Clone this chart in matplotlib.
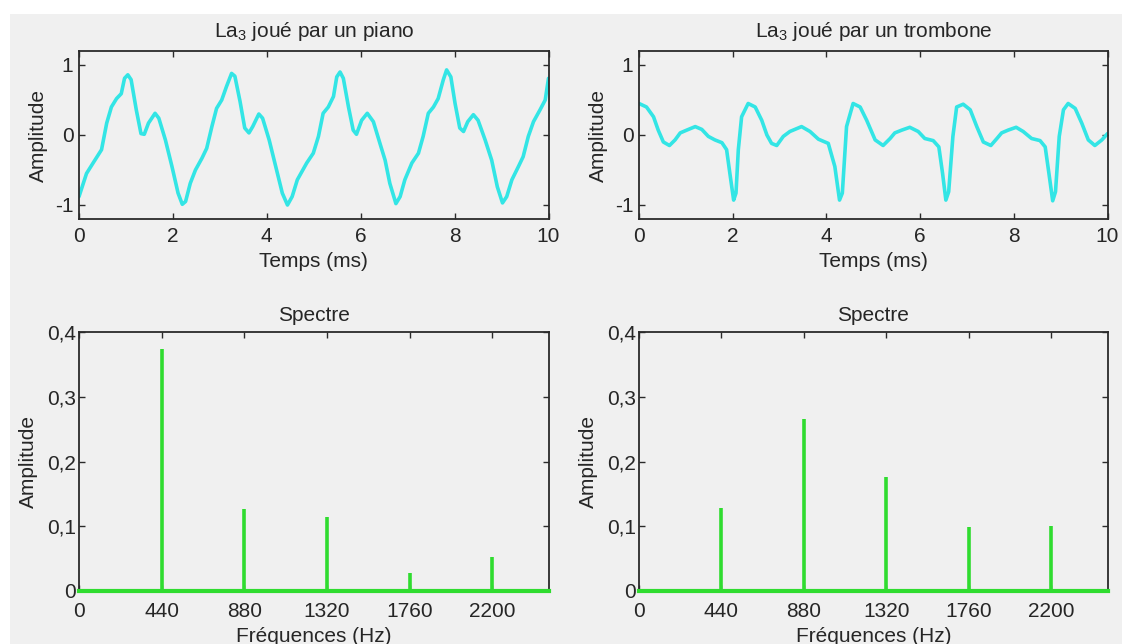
import matplotlib
matplotlib.use("Agg")
import matplotlib.pyplot as plt
from matplotlib.patches import Rectangle

plt.rcParams['font.family'] = ['Liberation Sans', 'DejaVu Sans']
plt.rcParams['mathtext.fontset'] = 'custom'
plt.rcParams['mathtext.rm'] = 'Liberation Sans'
plt.rcParams['mathtext.it'] = 'Liberation Sans'

# ---------------- data ----------------
piano_t = [0.00, 0.16, 0.30, 0.48, 0.59, 0.69, 0.80, 0.90, 0.97, 1.04, 1.11, 1.22, 1.32, 1.39, 1.48,
           1.62, 1.70, 1.84, 1.98, 2.11, 2.20, 2.27, 2.37, 2.48, 2.62, 2.72, 2.83, 2.93, 3.04, 3.14,
           3.25, 3.32, 3.43, 3.53, 3.62, 3.70, 3.83, 3.91, 4.05, 4.19, 4.33, 4.44, 4.54, 4.65, 4.85,
           4.99, 5.10, 5.20, 5.31, 5.42, 5.49, 5.56, 5.63, 5.74, 5.84, 5.91, 6.02, 6.14, 6.27, 6.41,
           6.52, 6.62, 6.75, 6.84, 6.94, 7.09, 7.23, 7.33, 7.44, 7.55, 7.65, 7.76, 7.83, 7.92, 8.01,
           8.11, 8.19, 8.28, 8.40, 8.50, 8.65, 8.79, 8.91, 9.02, 9.11, 9.22, 9.36, 9.46, 9.57, 9.68,
           9.82, 9.93, 10.0]
piano_y = [-0.88, -0.55, -0.40, -0.21, 0.17, 0.40, 0.52, 0.59, 0.81, 0.86, 0.79, 0.36, 0.02, 0.01, 0.17,
           0.31, 0.24, -0.07, -0.45, -0.83, -0.99, -0.95, -0.69, -0.50, -0.33, -0.19, 0.12, 0.38, 0.50, 0.69,
           0.88, 0.84, 0.48, 0.10, 0.03, 0.12, 0.30, 0.24, -0.07, -0.45, -0.83, -1.00, -0.88, -0.64, -0.40,
           -0.26, -0.02, 0.31, 0.40, 0.55, 0.83, 0.90, 0.81, 0.40, 0.07, 0.01, 0.21, 0.31, 0.19, -0.12,
           -0.36, -0.69, -0.98, -0.88, -0.64, -0.40, -0.26, -0.02, 0.31, 0.40, 0.52, 0.79, 0.93, 0.83, 0.45,
           0.10, 0.05, 0.19, 0.29, 0.21, -0.07, -0.36, -0.74, -0.97, -0.88, -0.64, -0.45, -0.31, -0.02, 0.19,
           0.36, 0.50, 0.81]

trombone_t = [0.00, 0.16, 0.31, 0.41, 0.52, 0.65, 0.77, 0.88, 1.02, 1.20, 1.34, 1.48, 1.62, 1.77, 1.87,
              1.94, 2.02, 2.07, 2.12, 2.19, 2.33, 2.48, 2.62, 2.73, 2.83, 2.94, 3.08, 3.22, 3.47, 3.65,
              3.83, 4.04, 4.18, 4.28, 4.34, 4.43, 4.57, 4.72, 4.86, 5.04, 5.21, 5.36, 5.46, 5.61, 5.78,
              5.96, 6.10, 6.28, 6.40, 6.48, 6.55, 6.61, 6.70, 6.78, 6.92, 7.07, 7.21, 7.35, 7.51, 7.64,
              7.74, 7.88, 8.05, 8.20, 8.38, 8.56, 8.67, 8.75, 8.83, 8.89, 8.97, 9.06, 9.16, 9.31, 9.45,
              9.59, 9.73, 9.88, 10.0]
trombone_y = [0.45, 0.40, 0.26, 0.07, -0.10, -0.15, -0.07, 0.03, 0.07, 0.12, 0.08, -0.02, -0.07, -0.11, -0.21,
              -0.55, -0.93, -0.83, -0.21, 0.26, 0.45, 0.40, 0.21, 0.00, -0.12, -0.15, -0.02, 0.05, 0.12, 0.05,
              -0.06, -0.12, -0.45, -0.93, -0.83, 0.12, 0.45, 0.40, 0.21, -0.07, -0.15, -0.05, 0.03, 0.07, 0.11,
              0.05, -0.05, -0.08, -0.17, -0.55, -0.93, -0.81, -0.02, 0.40, 0.44, 0.36, 0.12, -0.10, -0.15, -0.05,
              0.03, 0.07, 0.11, 0.05, -0.05, -0.08, -0.17, -0.55, -0.94, -0.81, -0.02, 0.36, 0.45, 0.38, 0.17,
              -0.07, -0.15, -0.07, 0.02]

harmonics = [440, 880, 1320, 1760, 2200]
piano_amp = [0.373, 0.127, 0.115, 0.028, 0.052]
trombone_amp = [0.128, 0.265, 0.176, 0.099, 0.100]

time_ticks = [0, 2, 4, 6, 8, 10]
wave_yticks = [-1, 0, 1]
wave_yticklabels = ['-1', '0', '1']
freq_ticks = [0, 440, 880, 1320, 1760, 2200]
spec_yticks = [0, 0.1, 0.2, 0.3, 0.4]
spec_yticklabels = ['0', '0,1', '0,2', '0,3', '0,4']

titles_top = [r'La$_3$ joué par un piano', r'La$_3$ joué par un trombone']

# ---------------- style ----------------
BG = '#f0f0f0'
TXT = '#262626'
CYAN = '#33e5e5'
GREEN = '#2fdc2f'
FS = 15

W, H = 1122, 644
fig = plt.figure(figsize=(W / 100, H / 100), dpi=100, facecolor=BG)

# white screenshot border (top and left)
fig.patches.append(Rectangle((0, 1 - 14 / H), 1, 14 / H, transform=fig.transFigure,
                             facecolor='white', edgecolor='none', zorder=-10))
fig.patches.append(Rectangle((0, 0), 10 / W, 1, transform=fig.transFigure,
                             facecolor='white', edgecolor='none', zorder=-10))

def px_axes(x0, x1, ytop, ybot):
    return fig.add_axes([x0 / W, 1 - ybot / H, (x1 - x0) / W, (ybot - ytop) / H])

def style(ax, xpad, ypad):
    ax.set_facecolor(BG)
    for s in ax.spines.values():
        s.set_color('#2a2a2a')
        s.set_linewidth(1.3)
    ax.tick_params(direction='in', top=True, right=True, length=4.5, width=1.0,
                   colors='#2a2a2a', labelcolor=TXT, labelsize=FS)
    ax.tick_params(axis='x', pad=xpad)
    ax.tick_params(axis='y', pad=ypad)

# top waveforms
lefts = [(79, 548.5), (639, 1107.5)]
waves = [(piano_t, piano_y), (trombone_t, trombone_y)]
for (x0, x1), (tt, yy), title in zip(lefts, waves, titles_top):
    ax = px_axes(x0, x1, 51, 219)
    style(ax, 6, 4)
    ax.plot(tt, yy, color=CYAN, lw=2.6, solid_joinstyle='round', solid_capstyle='round')
    ax.set_xlim(0, 10)
    ax.set_ylim(-1.2, 1.2)
    ax.set_xticks(time_ticks)
    ax.set_xticklabels([str(v) for v in time_ticks])
    ax.set_yticks(wave_yticks)
    ax.set_yticklabels(wave_yticklabels)
    ax.set_title(title, fontsize=FS, color=TXT, pad=10)
    ax.set_xlabel('Temps (ms)', fontsize=FS, color=TXT, labelpad=4)
    ax.set_ylabel('Amplitude', fontsize=FS, color=TXT, labelpad=5)

# bottom spectra
spectra = [piano_amp, trombone_amp]
for (x0, x1), amps in zip(lefts, spectra):
    ax = px_axes(x0, x1, 332, 591)
    style(ax, 8, 2)
    ax.axhline(0, color=GREEN, lw=3.0, zorder=3, clip_on=False)
    ax.vlines(harmonics, 0, amps, color=GREEN, lw=2.6, zorder=3, clip_on=False)
    ax.set_xlim(0, 2500)
    ax.set_ylim(0, 0.4)
    ax.set_xticks(freq_ticks)
    ax.set_xticklabels([str(v) for v in freq_ticks])
    ax.set_yticks(spec_yticks)
    ax.set_yticklabels(spec_yticklabels)
    ax.set_title('Spectre', fontsize=FS, color=TXT, pad=8)
    ax.set_xlabel('Fréquences (Hz)', fontsize=FS, color=TXT, labelpad=4)
    ax.set_ylabel('Amplitude', fontsize=FS, color=TXT, labelpad=7)

fig.savefig('out.png', dpi=100, facecolor=BG)
